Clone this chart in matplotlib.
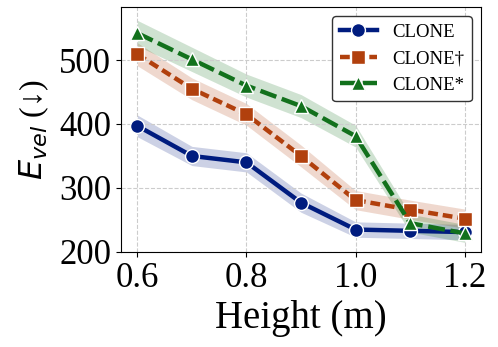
import numpy as np
import matplotlib
matplotlib.use("Agg")
import matplotlib.pyplot as plt

plt.rcParams["font.family"] = ["Liberation Serif", "DejaVu Serif"]
plt.rcParams["mathtext.fontset"] = "dejavusans"

heights = [0.6, 0.7, 0.8, 0.9, 1.0, 1.1, 1.2]
labels = ["CLONE", "CLONE\u2020", "CLONE*"]
clone = [397, 350, 340, 277, 235, 233, 231]
clone_dag = [509, 455, 415, 350, 281, 266, 252]
clone_star = [542, 501, 460, 428, 381, 245, 229]
clone_err = [17, 15, 15, 15, 12, 12, 12]
clone_dag_err = [18, 17, 17, 17, 15, 15, 15]
clone_star_err = [20, 19, 18, 18, 17, 14, 14]

series = [clone, clone_dag, clone_star]
errs = [clone_err, clone_dag_err, clone_star_err]
colors = ["#001c7f", "#b1400d", "#12711c"]
dashes = [(None, None), (2.2, 1.1), (3.8, 1.3)]
markers = ["o", "s", "^"]

fig = plt.figure(figsize=(4.98, 3.47), dpi=100)
ax = fig.add_axes([0.243, 0.274, 0.723, 0.706])

x = np.array(heights)
for vals, err, c, d, m, lab in zip(series, errs, colors, dashes, markers, labels):
    vals = np.array(vals)
    err = np.array(err)
    ax.fill_between(x, vals - err, vals + err, color=c, alpha=0.2, linewidth=0)
    line, = ax.plot(x, vals, color=c, linewidth=3.2, marker=m,
                    markersize=10, markeredgecolor="white", markeredgewidth=1,
                    label=lab)
    if d[0] is not None:
        line.set_dashes(d)

ax.set_ylim(200, 583)
ax.set_yticks([200, 300, 400, 500])
ax.set_xticks([0.6, 0.8, 1.0, 1.2])
ax.tick_params(labelsize=25)
ax.grid(True, linestyle="--", color="#cccccc", linewidth=0.8)
ax.set_xlabel("Height (m)", fontsize=28, labelpad=4)
ax.set_ylabel("$E_{vel}$ (\u2193)", fontsize=23, labelpad=6)
leg = ax.legend(loc="upper right", fontsize=13.5, frameon=True, fancybox=True,
                edgecolor="#333333", framealpha=1, handlelength=2.0)
leg.get_frame().set_linewidth(1.0)

fig.savefig("out.png", dpi=100)
